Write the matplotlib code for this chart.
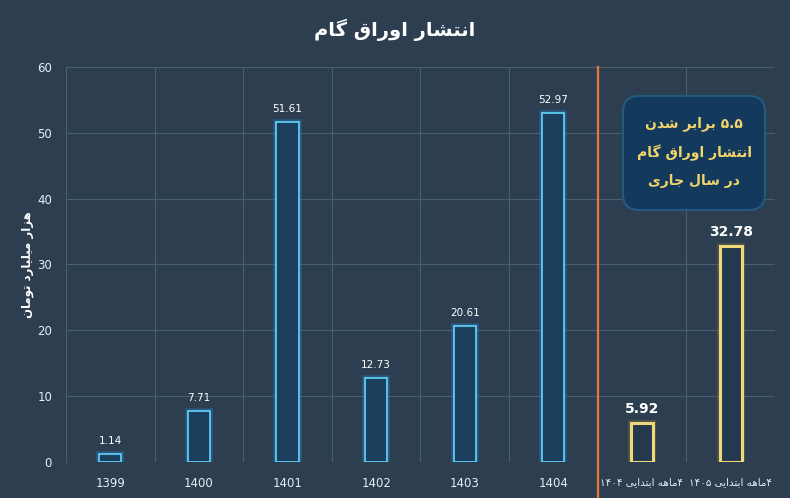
import re
import matplotlib
matplotlib.use('Agg')
import matplotlib.pyplot as plt
import matplotlib.patheffects as pe
from matplotlib.patches import FancyBboxPatch

# --- data ---
years = ['1399', '1400', '1401', '1402', '1403', '1404']
values = [1.14, 7.71, 51.61, 12.73, 20.61, 52.97]
partial_labels = ['۴ماهه ابتدایی ۱۴۰۴', '۴ماهه ابتدایی ۱۴۰۵']
partial_values = [5.92, 32.78]

title = 'انتشار اوراق گام'
ylabel = 'هزار میلیارد تومان'
note = ['۵.۵ برابر شدن', 'انتشار اوراق گام', 'در سال جاری']

# presentation forms: isolated, final, initial, medial
FORMS = {
    'ا': ('\uFE8D', '\uFE8E', None, None),
    'ب': ('\uFE8F', '\uFE90', '\uFE91', '\uFE92'),
    'ت': ('\uFE95', '\uFE96', '\uFE97', '\uFE98'),
    'ج': ('\uFE9D', '\uFE9E', '\uFE9F', '\uFEA0'),
    'د': ('\uFEA9', '\uFEAA', None, None),
    'ر': ('\uFEAD', '\uFEAE', None, None),
    'ز': ('\uFEAF', '\uFEB0', None, None),
    'س': ('\uFEB1', '\uFEB2', '\uFEB3', '\uFEB4'),
    'ش': ('\uFEB5', '\uFEB6', '\uFEB7', '\uFEB8'),
    'ق': ('\uFED5', '\uFED6', '\uFED7', '\uFED8'),
    'ل': ('\uFEDD', '\uFEDE', '\uFEDF', '\uFEE0'),
    'م': ('\uFEE1', '\uFEE2', '\uFEE3', '\uFEE4'),
    'ن': ('\uFEE5', '\uFEE6', '\uFEE7', '\uFEE8'),
    'ه': ('\uFEE9', '\uFEEA', '\uFEEB', '\uFEEC'),
    'و': ('\uFEED', '\uFEEE', None, None),
    'ی': ('\uFBFC', '\uFBFD', '\uFBFE', '\uFBFF'),
    'گ': ('\uFB92', '\uFB93', '\uFB94', '\uFB95'),
}


def shape(s):
    out = []
    for i, c in enumerate(s):
        if c not in FORMS:
            out.append(c)
            continue
        iso, fin, ini, med = FORMS[c]
        prev = s[i-1] if i > 0 else None
        nxt = s[i+1] if i < len(s)-1 else None
        jp = prev in FORMS and FORMS[prev][2] is not None
        jn = nxt in FORMS and ini is not None
        if jp and jn:
            out.append(med)
        elif jp:
            out.append(fin)
        elif jn:
            out.append(ini)
        else:
            out.append(iso)
    return ''.join(out)


def fa(s):
    # shape + visual order for a right-to-left line
    toks = re.findall(r'[0-9۰-۹.]+|[^0-9۰-۹.]+', shape(s))
    res = []
    for t in reversed(toks):
        res.append(t if re.match(r'[0-9۰-۹.]', t) else t[::-1])
    return ''.join(res)


bg = '#2c3e50'
grid_c = '#4b5e71'
plt.rcParams['font.family'] = ['DejaVu Sans']

fig = plt.figure(figsize=(7.9, 4.98), dpi=100, facecolor=bg)
ax = fig.add_axes([0.0835, 0.0723, 0.8975, 0.7932], facecolor=bg)

x_main = list(range(len(years)))
x_part = [len(years) + i for i in range(len(partial_values))]
w = 0.25

glow_b = [pe.Stroke(linewidth=4, foreground='#2a78b4', alpha=0.45), pe.Normal()]
glow_y = [pe.Stroke(linewidth=4.5, foreground='#8a7a3a', alpha=0.35), pe.Normal()]

bars = ax.bar(x_main, values, width=w, color='#1c3f5e', edgecolor='#62d6ff',
              linewidth=1.2, zorder=3)
for b in bars:
    b.set_path_effects(glow_b)
bars2 = ax.bar(x_part, partial_values, width=w, color='#24394d', edgecolor='#efd97a',
               linewidth=2.2, zorder=3)
for b in bars2:
    b.set_path_effects(glow_y)

for xi, v in zip(x_main, values):
    ax.annotate(f'{v:.2f}', (xi, v), xytext=(0, 6), textcoords='offset points',
                ha='center', va='bottom', color='white', fontsize=7.5)
for xi, v in zip(x_part, partial_values):
    ax.annotate(f'{v:.2f}', (xi, v), xytext=(0, 5), textcoords='offset points',
                ha='center', va='bottom', color='white', fontsize=10, fontweight='bold')

ax.set_xlim(-0.5, len(years) + len(partial_values) - 0.5)
ax.set_ylim(0, 60)
ax.set_yticks(range(0, 61, 10))
ax.set_xticks(x_main + x_part)
ax.set_xticklabels(years + [fa(l) for l in partial_labels])
ax.tick_params(axis='both', length=0, colors='#e6edf3', labelsize=8.5)
ax.tick_params(axis='x', pad=11)
ax.tick_params(axis='y', pad=10)
for t in ax.get_xticklabels()[len(years):]:
    t.set_fontsize(7.5)

# grid
ax.yaxis.grid(True, color=grid_c, linewidth=0.8, zorder=0)
ax.set_xticks([i - 0.5 for i in range(1, len(years) + len(partial_values))], minor=True)
ax.xaxis.grid(True, which='minor', color=grid_c, linewidth=0.8, zorder=0)
ax.tick_params(axis='x', which='minor', length=0)
for s in ['top', 'right', 'bottom']:
    ax.spines[s].set_visible(False)
ax.spines['left'].set_color(grid_c)

ax.axvline(len(years) - 0.5, ymin=-0.1, ymax=1.0, color='#e07b3a', linewidth=1.6,
           clip_on=False, zorder=4)

fig.text(0.5, 1 - 30 / 498, fa(title), ha='center', va='center', color='white',
         fontsize=14, fontweight='bold')
fig.text(27 / 790, 1 - 265 / 498, fa(ylabel), rotation=90, ha='center', va='center',
         color='white', fontsize=8.5, fontweight='bold')

# note box
asp = 709 / 395
box = FancyBboxPatch((0.7856, 0.638), 0.2003, 0.2886, transform=ax.transAxes,
                     boxstyle='round,pad=0,rounding_size=0.0226', mutation_aspect=asp,
                     facecolor='#133a5c', edgecolor='#245a82', linewidth=1.5,
                     zorder=6, clip_on=False)
ax.add_patch(box)
ax.text(0.886, 0.785, '\n'.join(fa(l) for l in note), transform=ax.transAxes,
        ha='center', va='center', color='#f2d46b', fontsize=10, fontweight='bold',
        linespacing=2.1, zorder=7)

fig.savefig('out.png', dpi=100, facecolor=bg)
